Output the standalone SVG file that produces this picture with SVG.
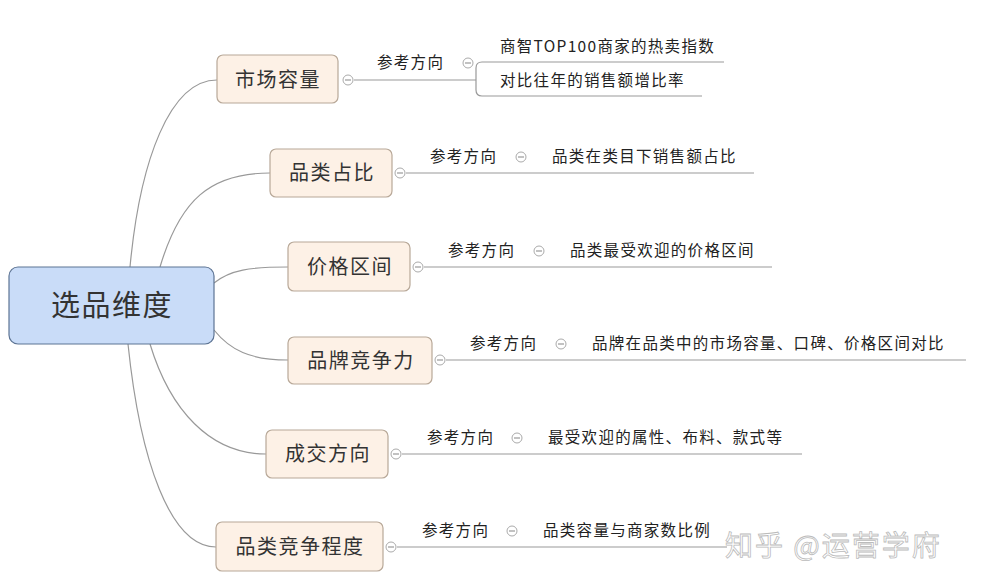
<svg xmlns="http://www.w3.org/2000/svg" width="992" height="586" viewBox="0 0 992 586">
<style>
.n rect{fill:#fdf1e6;stroke:#b8a898;stroke-width:1.2}
.n text{font-family:"Noto Sans CJK SC",sans-serif;font-size:20px;letter-spacing:1.5px;fill:#333;text-anchor:middle}
.c path,.c line{fill:none;stroke:#999;stroke-width:1.2}
.c circle{fill:#fff;stroke:#aaa;stroke-width:1}
.t{font-family:"Noto Sans CJK SC",sans-serif;font-size:15.5px;letter-spacing:1.3px;fill:#222}
</style>
<rect width="992" height="586" fill="#fff"/>
<g class="c">
<path d="M130 267 C140 160 170 80 217 80"/>
<path d="M160 267 C180 200 210 173 270 173"/>
<path d="M214 283 C230 270 250 267 288 267"/>
<path d="M214 330 C230 350 250 360 288 360"/>
<path d="M150 344 C170 410 210 454 266 454"/>
<path d="M128 344 C140 460 170 547 216 547"/>
<line x1="354" y1="80" x2="476" y2="80"/>
<path d="M724 62 H482 Q476 62 476 68 V90 Q476 96 482 96 H702"/>
<line x1="406" y1="173" x2="754" y2="173"/>
<line x1="424" y1="267" x2="772" y2="267"/>
<line x1="446" y1="360" x2="966" y2="360"/>
<line x1="402" y1="454" x2="802" y2="454"/>
<line x1="397" y1="547" x2="727" y2="547"/>
<circle cx="348" cy="80" r="5"/><circle cx="468" cy="63" r="5"/>
<circle cx="400" cy="173" r="5"/><circle cx="521" cy="157" r="5"/>
<circle cx="418" cy="267" r="5"/><circle cx="539" cy="251" r="5"/>
<circle cx="440" cy="360" r="5"/><circle cx="561" cy="344" r="5"/>
<circle cx="396" cy="454" r="5"/><circle cx="517" cy="438" r="5"/>
<circle cx="391" cy="547" r="5"/><circle cx="512" cy="531" r="5"/>
<g stroke="#aaa" stroke-width="1">
<line x1="345" y1="80" x2="351" y2="80"/><line x1="465" y1="63" x2="471" y2="63"/>
<line x1="397" y1="173" x2="403" y2="173"/><line x1="518" y1="157" x2="524" y2="157"/>
<line x1="415" y1="267" x2="421" y2="267"/><line x1="536" y1="251" x2="542" y2="251"/>
<line x1="437" y1="360" x2="443" y2="360"/><line x1="558" y1="344" x2="564" y2="344"/>
<line x1="393" y1="454" x2="399" y2="454"/><line x1="514" y1="438" x2="520" y2="438"/>
<line x1="388" y1="547" x2="394" y2="547"/><line x1="509" y1="531" x2="515" y2="531"/>
</g>
</g>
<g id="root"><rect x="9" y="267" width="205" height="77" rx="9" fill="#c9dcf8" stroke="#5d7494" stroke-width="1.2"/>
<text x="112" y="316" font-family="Noto Sans CJK SC,sans-serif" font-size="29" letter-spacing="1.5" fill="#333" text-anchor="middle">选品维度</text></g>
<g id="n1" class="n"><rect x="217" y="55" width="121" height="48" rx="6"/><text x="278" y="87">市场容量</text></g>
<g id="n2" class="n"><rect x="270" y="149" width="122" height="48" rx="6"/><text x="332" y="180">品类占比</text></g>
<g id="n3" class="n"><rect x="288" y="242" width="122" height="49" rx="6"/><text x="350" y="274">价格区间</text></g>
<g id="n4" class="n"><rect x="288" y="337" width="144" height="47" rx="6"/><text x="361" y="368">品牌竞争力</text></g>
<g id="n5" class="n"><rect x="266" y="430" width="122" height="48" rx="6"/><text x="328" y="461">成交方向</text></g>
<g id="n6" class="n"><rect x="216" y="522" width="167" height="49" rx="6"/><text x="300" y="554">品类竞争程度</text></g>
<g id="labels">
<text class="t" x="377" y="68">参考方向</text>
<text class="t" x="500" y="52">商智TOP100商家的热卖指数</text>
<text class="t" x="500" y="86">对比往年的销售额增比率</text>
<text class="t" x="430" y="162">参考方向</text>
<text class="t" x="552" y="162">品类在类目下销售额占比</text>
<text class="t" x="448" y="256">参考方向</text>
<text class="t" x="570" y="256">品类最受欢迎的价格区间</text>
<text class="t" x="470" y="349">参考方向</text>
<text class="t" x="592" y="349">品牌在品类中的市场容量、口碑、价格区间对比</text>
<text class="t" x="427" y="443">参考方向</text>
<text class="t" x="548" y="443">最受欢迎的属性、布料、款式等</text>
<text class="t" x="422" y="536">参考方向</text>
<text class="t" x="543" y="536">品类容量与商家数比例</text>
</g>
<text x="725" y="556" font-family="Noto Sans CJK SC,sans-serif" font-size="28" letter-spacing="2" fill="#fff" stroke="#bbb" stroke-width="0.8">知乎 @运营学府</text>
</svg>
